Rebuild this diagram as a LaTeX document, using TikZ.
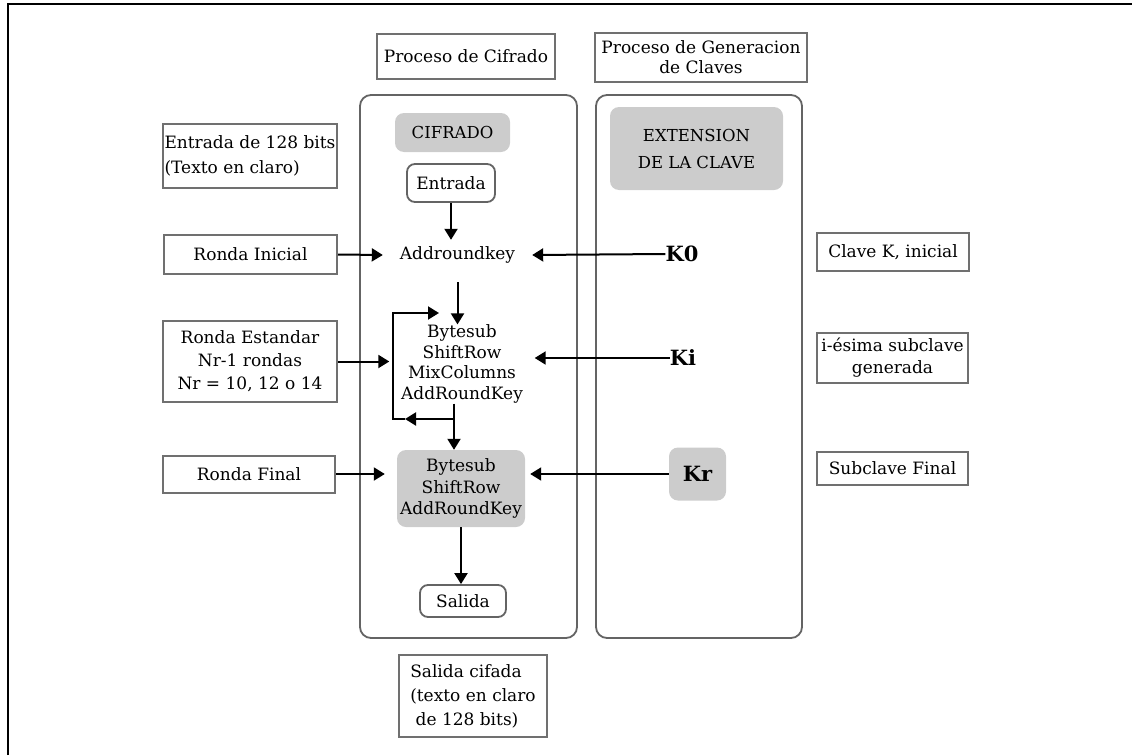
\documentclass[tikz,border=0pt]{standalone}
\usepackage{fontspec}
\setmainfont{DejaVu Serif}
\usetikzlibrary{arrows.meta}
\definecolor{boxline}{RGB}{112,112,112}
\definecolor{bigline}{RGB}{100,100,100}
\definecolor{greyfill}{RGB}{204,204,204}
\tikzset{
  lbl/.style={draw=boxline, line width=2pt, rectangle, inner sep=0pt, align=center, font=\fontsize{17}{25}\selectfont},
  big/.style={draw=bigline, line width=1.8pt, rounded corners=11pt},
  grey/.style={fill=greyfill, draw=none, rounded corners=9pt, inner sep=0pt, align=center},
  io/.style={draw=bigline, line width=1.8pt, rounded corners=8pt, inner sep=0pt, font=\fontsize{17}{25}\selectfont},
  txt/.style={inner sep=0pt, align=center, font=\fontsize{17}{21}\selectfont},
  key/.style={inner sep=0pt, font=\fontsize{21}{24}\selectfont\bfseries},
  arr/.style={line width=2pt, -{Triangle[length=11pt,width=13pt]}},
  ln/.style={line width=2pt}
}
\begin{document}
\begin{tikzpicture}[x=1pt,y=-1pt]
\useasboundingbox (0,0) rectangle (1132,755);
% outer frame
\draw[line width=1.6pt] (8,755) -- (8,4) -- (1132,4);
% big containers
\draw[big] (360,95) rectangle (577,638);
\draw[big] (596,95) rectangle (802,638);
% headers
\node[lbl, minimum width=178pt, minimum height=45pt] (pcif) at (466,56) {Proceso de Cifrado};
\node[lbl, minimum width=212pt, minimum height=49pt, font=\fontsize{17}{20}\selectfont] (pgen) at (701,57.5) {Proceso de Generacion\\de Claves};
% grey titles
\node[grey, minimum width=115pt, minimum height=39pt, font=\fontsize{16.5}{20}\selectfont] (cifrado) at (452.5,132.5) {CIFRADO};
\node[grey, minimum width=173pt, minimum height=83pt, font=\fontsize{16.5}{27}\selectfont] (ext) at (696.5,148.5) {EXTENSION\\DE LA CLAVE};
% flow
\node[io, minimum width=88pt, minimum height=38pt] (entrada) at (451,183) {Entrada};
\node[txt, minimum width=149pt, minimum height=30pt] (add) at (457.5,255) {Addroundkey};
\node[txt, minimum width=145pt, font=\fontsize{17}{20.7}\selectfont] (std) at (462,364) {Bytesub\\ShiftRow\\MixColumns\\AddRoundKey};
\node[grey, minimum width=128pt, minimum height=77pt, font=\fontsize{17}{21.5}\selectfont] (final) at (461,488.5) {Bytesub\\ShiftRow\\AddRoundKey};
\node[io, minimum width=86pt, minimum height=32pt] (salida) at (463,601) {Salida};
\node[lbl, minimum width=148pt, minimum height=82pt, align=left, font=\fontsize{17}{24}\selectfont] (scif) at (473,696) {Salida cifada\\(texto en claro\\\ de 128 bits)};
% left labels
\node[lbl, minimum width=174pt, minimum height=64pt, align=left] (ent128) at (250,156) {Entrada de 128 bits\\(Texto en claro)};
\node[lbl, minimum width=173pt, minimum height=39pt] (rinicial) at (250.5,254.5) {Ronda Inicial};
\node[lbl, minimum width=174pt, minimum height=81pt, font=\fontsize{17}{23}\selectfont] (rest) at (250,361.5) {Ronda Estandar\\Nr-1 rondas\\Nr = 10, 12 o 14};
\node[lbl, minimum width=172pt, minimum height=37pt] (rfinal) at (249,474) {Ronda Final};
% keys
\node[key] (k0) at (682,254) {K0};
\node[key] (ki) at (683,358) {Ki};
\node[grey, key, minimum width=57pt, minimum height=53pt] (kr) at (697.5,474) {Kr};
% right labels
\node[lbl, minimum width=152pt, minimum height=38pt] (clave) at (893,252) {Clave K, inicial};
\node[lbl, minimum width=151pt, minimum height=50pt, font=\fontsize{17}{22}\selectfont] (isima) at (892.5,358) {i-ésima subclave\\generada};
\node[lbl, minimum width=151pt, minimum height=33pt] (subfin) at (892.5,468.5) {Subclave Final};
% connectors
\draw[arr] (entrada.south) -- (entrada.south |- add.north);
\draw[arr, shorten <=12pt] (add.south) -- (add.south |- std.north);
\draw[arr] (rinicial.east) -- (add.west);
\draw[arr] (k0.west) -- (add.east);
\draw[arr] (rest.east) -- (rest.east -| std.west);
\draw[arr] (ki.west) -- (ki.west -| std.east);
\coordinate (split) at (454,419);
\coordinate (lpA) at (405,419);
\coordinate (lpB) at (393,419);
\coordinate (lpC) at (393,313);
\coordinate (lpD) at (439,313);
\draw[ln] (split |- std.south) -- (split);
\draw[arr] (split) -- (split |- final.north);
\draw[arr] (split) -- (lpA);
\draw[arr] (lpA) -- (lpB) -- (lpC) -- (lpD);
\coordinate (fL) at ([xshift=-12pt]final.west);
\coordinate (fR) at ([xshift=5pt]final.east);
\draw[arr] (rfinal.east) -- (fL |- rfinal.east);
\draw[arr] (kr.west) -- (fR |- kr.west);
\draw[arr] (final.south) -- (final.south |- salida.north);
\end{tikzpicture}
\end{document}
